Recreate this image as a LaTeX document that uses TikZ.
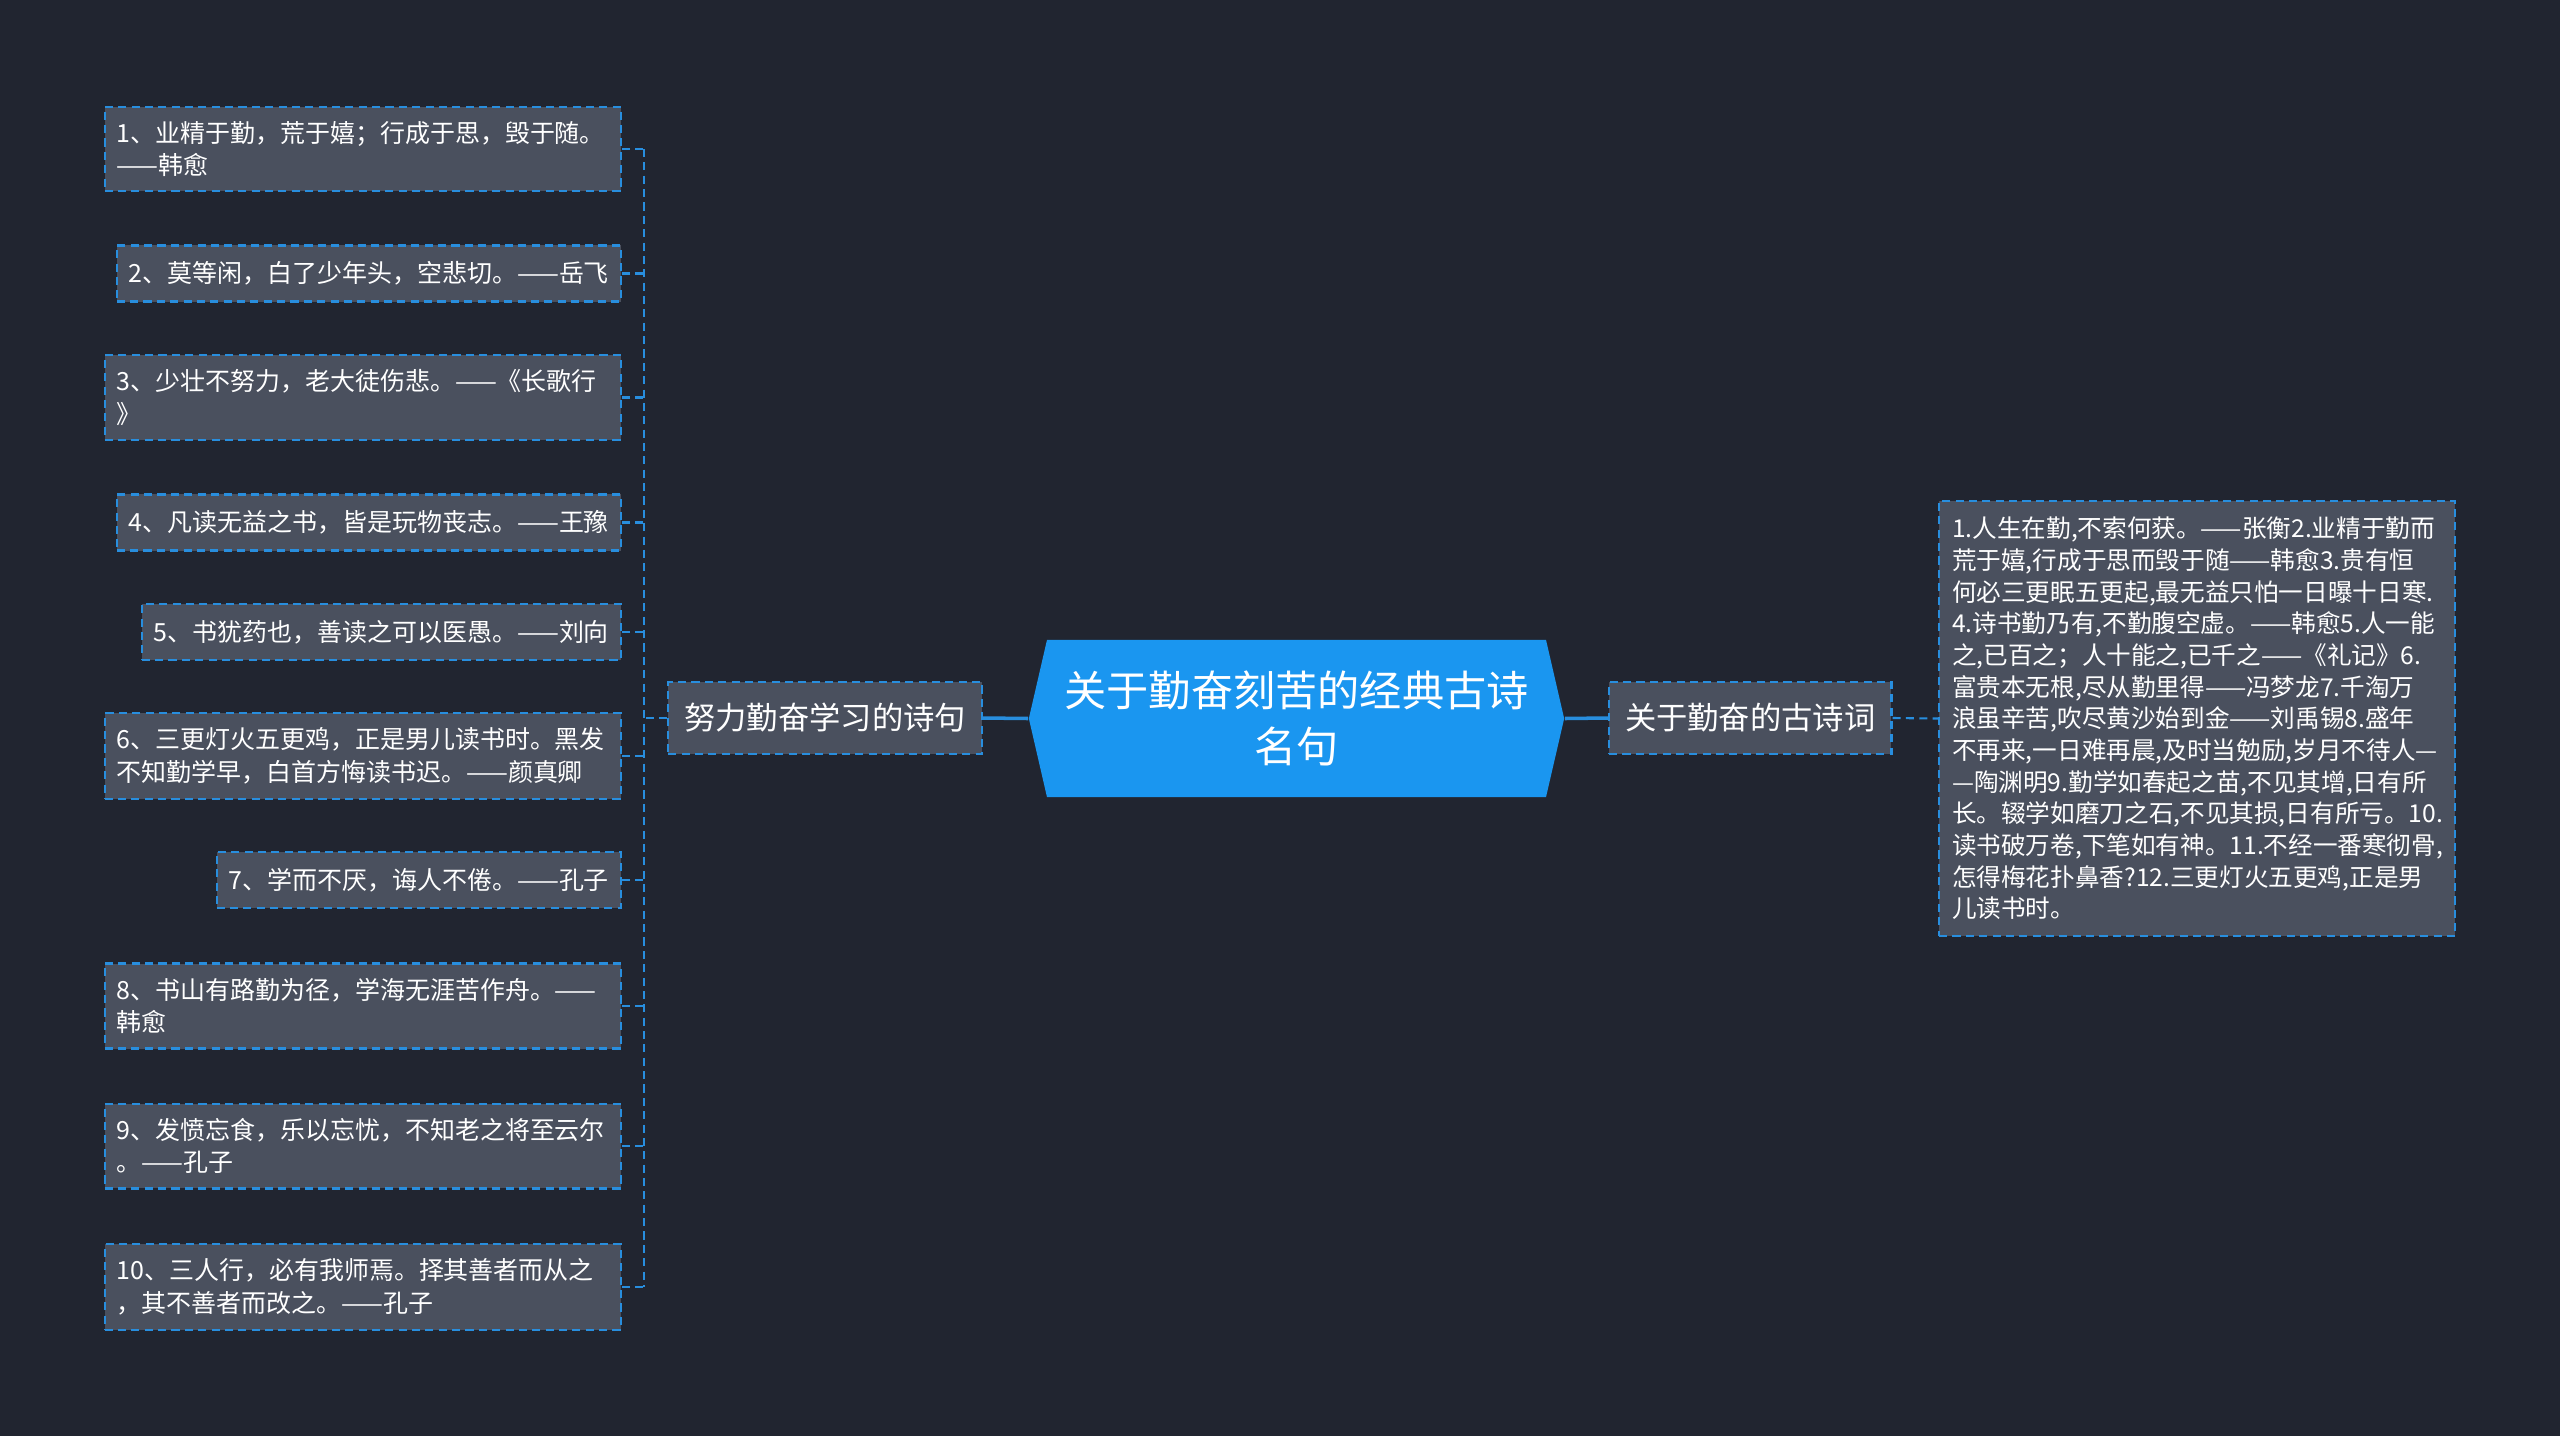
\documentclass[tikz,border=0pt]{standalone}
\usepackage{fontspec}
\setmainfont{Noto Sans CJK SC}
\definecolor{mmBg}{RGB}{33, 37, 48}
\definecolor{mmCard}{RGB}{74, 80, 94}
\definecolor{mmLine}{RGB}{40, 142, 222}
\definecolor{mmRoot}{RGB}{26, 150, 240}
\usetikzlibrary{shapes.symbols, calc}
\tikzset{
  root/.style={signal, signal to=west and east, signal pointer angle=154, fill=mmRoot, text=white, minimum width=5.35cm, minimum height=1.57cm, align=center, font=\fontsize{12}{15.8}\selectfont},
  branch/.style={rectangle, draw=mmLine, line width=0.6pt, dash pattern=on 2.3pt off 1.5pt, fill=mmCard, text=white, minimum height=0.72cm, inner xsep=0.16cm, font=\fontsize{8.9}{11}\selectfont},
  leaf/.style={rectangle, draw=mmLine, line width=0.6pt, dash pattern=on 2.3pt off 1.5pt, fill=mmCard, text=white, align=left, inner xsep=0.12cm, inner ysep=0.145cm, minimum height=0.56cm, anchor=east, font=\fontsize{7.1}{9.3}\selectfont},
  wideleaf/.style={leaf, text width=4.92cm},
  bigleaf/.style={leaf, anchor=west, text width=4.9cm, inner xsep=0.13cm, minimum height=4.35cm, font=\fontsize{7}{9}\selectfont},
  mainline/.style={mmLine, line width=1pt},
  link/.style={mmLine, line width=0.6pt, dash pattern=on 2.3pt off 1.5pt},
}
\begin{document}
\begin{tikzpicture}[x=0.01cm, y=-0.01cm]
  \fill[mmBg] (0,0) rectangle (2560,1436);
  \useasboundingbox (0,0) rectangle (2560,1436);

  % centre and the two branches
  \node[root] (root) at (1296.5, 718.5) {关于勤奋刻苦的经典古诗\\名句};
  \node[branch, anchor=east] (study) at (983, 718) {努力勤奋学习的诗句};
  \node[branch, anchor=west] (poems) at (1608, 718) {关于勤奋的古诗词};

  % left leaves
  \node[wideleaf] (l1) at (622, 149) {1、业精于勤，荒于嬉；行成于思，毁于随。\\——韩愈};
  \node[leaf] (l2) at (622, 273.5) {2、莫等闲，白了少年头，空悲切。——岳飞};
  \node[wideleaf] (l3) at (622, 397.5) {3、少壮不努力，老大徒伤悲。——《长歌行\\》};
  \node[leaf] (l4) at (622, 522.5) {4、凡读无益之书，皆是玩物丧志。——王豫};
  \node[leaf] (l5) at (622, 632) {5、书犹药也，善读之可以医愚。——刘向};
  \node[wideleaf] (l6) at (622, 756) {6、三更灯火五更鸡，正是男儿读书时。黑发\\不知勤学早，白首方悔读书迟。——颜真卿};
  \node[leaf] (l7) at (622, 880) {7、学而不厌，诲人不倦。——孔子};
  \node[wideleaf] (l8) at (622, 1006) {8、书山有路勤为径，学海无涯苦作舟。——\\韩愈};
  \node[wideleaf] (l9) at (622, 1146) {9、发愤忘食，乐以忘忧，不知老之将至云尔\\。——孔子};
  \node[wideleaf] (l10) at (622, 1287) {10、三人行，必有我师焉。择其善者而从之\\，其不善者而改之。——孔子};

  % right leaf
  \node[bigleaf] (r1) at (1938, 718.5) {1.人生在勤,不索何获。——张衡2.业精于勤而\\
    荒于嬉,行成于思而毁于随——韩愈3.贵有恒\\
    何必三更眠五更起,最无益只怕一日曝十日寒.\\
    4.诗书勤乃有,不勤腹空虚。——韩愈5.人一能\\
    之,已百之；人十能之,已千之——《礼记》6.\\
    富贵本无根,尽从勤里得——冯梦龙7.千淘万\\
    浪虽辛苦,吹尽黄沙始到金——刘禹锡8.盛年\\
    不再来,一日难再晨,及时当勉励,岁月不待人—\\
    —陶渊明9.勤学如春起之苗,不见其增,日有所\\
    长。辍学如磨刀之石,不见其损,日有所亏。10.\\
    读书破万卷,下笔如有神。11.不经一番寒彻骨,\\
    怎得梅花扑鼻香?12.三更灯火五更鸡,正是男\\
    儿读书时。};

  % connectors
  \coordinate (trunk) at (644, 718);
  \draw[mainline] (root.west) -- (study.east);
  \draw[mainline] (root.east) -- (poems.west);
  \draw[link] (poems.east) -- (r1.west);
  \draw[link] (study.west) -- (trunk);
  \draw[link] (l1.east -| trunk) -- (l10.east -| trunk);
  \foreach \i in {1,...,10}
    \draw[link] (l\i.east) -- (l\i.east -| trunk);
\end{tikzpicture}
\end{document}
